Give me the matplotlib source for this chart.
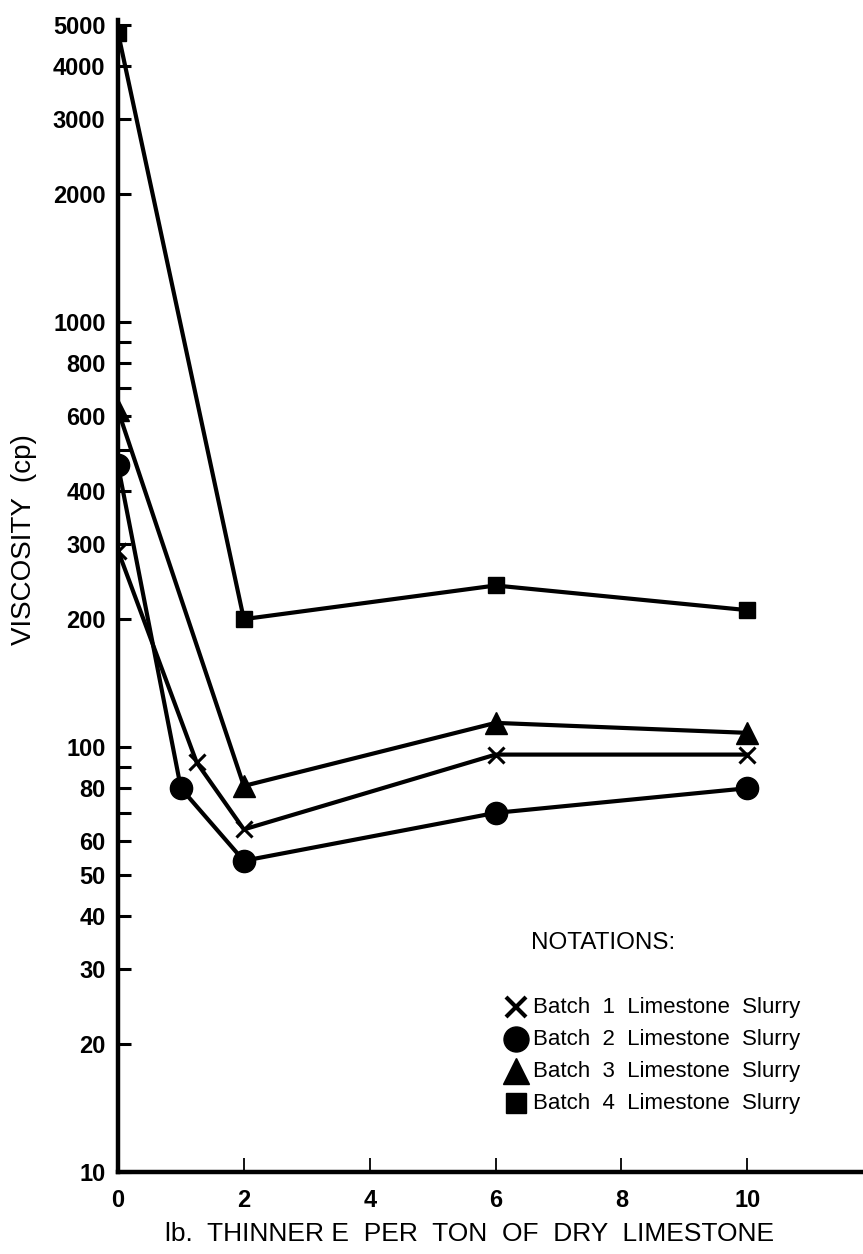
import matplotlib
matplotlib.use('Agg')
import matplotlib.pyplot as plt
import matplotlib.ticker as ticker
from matplotlib.lines import Line2D

plt.rcParams['font.family'] = ['Liberation Sans', 'DejaVu Sans']

# viscosity readings (cp) against lb. of thinner E per ton of dry limestone
batch1_x = [0, 1.25, 2, 6, 10]
batch1_y = [290, 92, 64, 96, 96]

batch2_x = [0, 1, 2, 6, 10]
batch2_y = [460, 80, 54, 70, 80]

batch3_x = [0, 2, 6, 10]
batch3_y = [620, 81, 114, 108]

batch4_x = [0, 2, 6, 10]
batch4_y = [4800, 200, 240, 210]

y_major = [10, 20, 30, 40, 50, 60, 80, 100, 200, 300, 400, 600, 800,
           1000, 2000, 3000, 4000, 5000]
y_minor = [70, 90, 500, 700, 900]
x_ticks = [0, 2, 4, 6, 8, 10]

legend_labels = ['Batch  1  Limestone  Slurry',
                 'Batch  2  Limestone  Slurry',
                 'Batch  3  Limestone  Slurry',
                 'Batch  4  Limestone  Slurry']

W, H = 863, 1254
fig = plt.figure(figsize=(W / 100, H / 100), dpi=100)
fig.patch.set_facecolor('white')

x0, y0, y_top = 118, 1172, 20
ax = fig.add_axes([x0 / W, 1 - y0 / H, 1 - x0 / W, (y0 - y_top) / H])
ax.set_yscale('log')
ax.set_xlim(0, 11.84)
ax.set_ylim(10, 5140)

ink = '#000000'
lw = 3.0
ax.plot(batch1_x, batch1_y, color=ink, lw=lw, marker='x', ms=12, mew=2.2,
        zorder=3)
ax.plot(batch2_x, batch2_y, color=ink, lw=lw, marker='o', ms=16, zorder=3)
ax.plot(batch3_x, batch3_y, color=ink, lw=lw, marker='^', ms=16, zorder=3)
ax.plot(batch4_x, batch4_y, color=ink, lw=lw, marker='s', ms=12, zorder=3)

for side in ['top', 'right']:
    ax.spines[side].set_visible(False)
for side in ['left', 'bottom']:
    ax.spines[side].set_linewidth(3.2)
    ax.spines[side].set_color(ink)

ax.yaxis.set_major_locator(ticker.FixedLocator(y_major))
ax.yaxis.set_major_formatter(ticker.FixedFormatter([str(v) for v in y_major]))
ax.yaxis.set_minor_locator(ticker.FixedLocator(y_minor))
ax.yaxis.set_minor_formatter(ticker.NullFormatter())
ax.set_xticks(x_ticks)
ax.set_xticklabels([str(v) for v in x_ticks])

ax.tick_params(axis='y', which='both', direction='in', length=9, width=2.2,
               pad=9, labelsize=17, colors=ink)
ax.tick_params(axis='x', which='major', direction='in', length=10, width=1.3,
               pad=12, labelsize=17, colors=ink)
for lab in ax.get_xticklabels() + ax.get_yticklabels():
    lab.set_fontweight('bold')

fig.text(24 / W, 1 - 540 / H, 'VISCOSITY  (cp)', rotation=90,
         ha='center', va='center', fontsize=20)
fig.text(470 / W, 1 - 1234 / H, 'lb.  THINNER E  PER  TON  OF  DRY  LIMESTONE',
         ha='center', va='center', fontsize=19)

# notations key
fig.text(531 / W, 1 - 943 / H, 'NOTATIONS:', ha='left', va='center',
         fontsize=17.5)
row_y = [1007, 1039, 1071, 1103]
key_markers = [('x', 14, 3.0), ('o', 18, 1), ('^', 19, 1), ('s', 14, 1)]
for yy, (mk, size, mew), label in zip(row_y, key_markers, legend_labels):
    fig.add_artist(Line2D([516 / W], [1 - yy / H], transform=fig.transFigure,
                          marker=mk, ms=size, mew=mew, color=ink,
                          linestyle='none'))
    fig.text(533 / W, 1 - yy / H, label, ha='left', va='center', fontsize=16)

fig.savefig('out.png', dpi=100, facecolor='white')
